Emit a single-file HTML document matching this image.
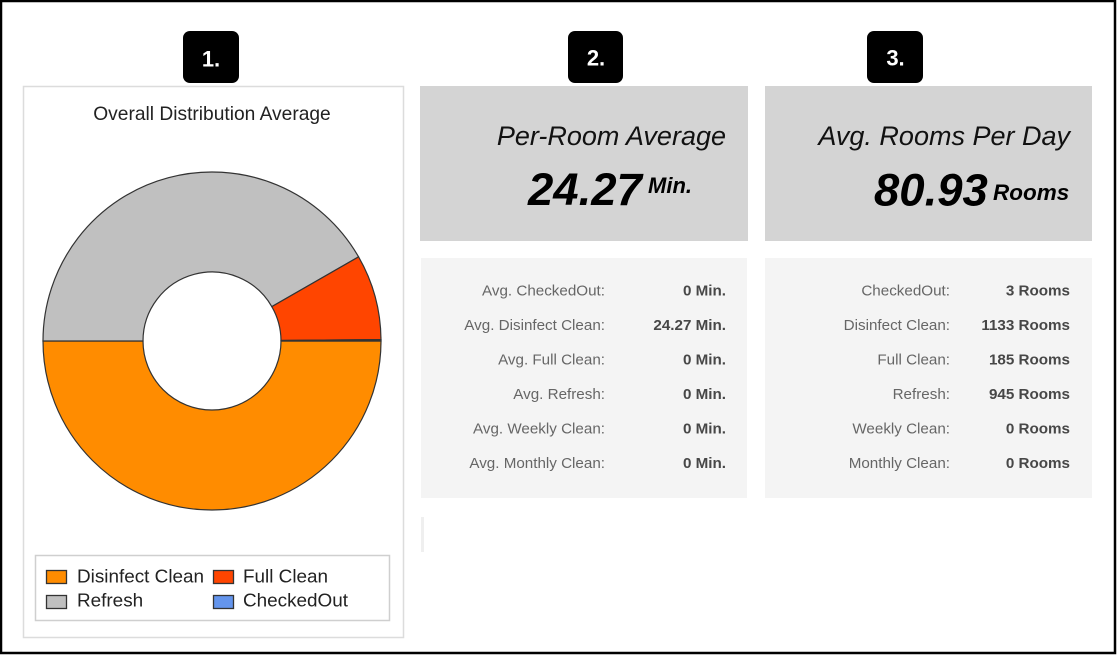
<!DOCTYPE html>
<html>
<head>
<meta charset="utf-8">
<style>
html,body{margin:0;padding:0;background:#fff;}
body{width:1118px;height:655px;overflow:hidden;position:relative;}
svg{position:absolute;left:0;top:0;}
text{font-family:"Liberation Sans",Arial,sans-serif;}
</style>
</head>
<body>
<svg width="1118" height="655" viewBox="0 0 1118 655" xmlns="http://www.w3.org/2000/svg">
  <!-- outer frame -->
  <rect x="1" y="1" width="1114" height="652" fill="#fff" stroke="#000" stroke-width="2.5"/>

  <!-- badges -->
  <rect x="183" y="31" width="56" height="52" rx="7" fill="#000"/>
  <text x="211" y="66.5" font-size="22" font-weight="bold" fill="#fff" text-anchor="middle">1.</text>
  <rect x="568" y="31" width="55" height="52" rx="7" fill="#000"/>
  <text x="596" y="65.5" font-size="22" font-weight="bold" fill="#fff" text-anchor="middle">2.</text>
  <rect x="867" y="31" width="56" height="52" rx="7" fill="#000"/>
  <text x="895.5" y="65.5" font-size="22" font-weight="bold" fill="#fff" text-anchor="middle">3.</text>

  <!-- panel 1 -->
  <rect x="23.5" y="86.5" width="380" height="551" fill="#fff" stroke="#dcdcdc" stroke-width="1.5"/>
  <text x="212" y="120" font-size="19.2" fill="#222" text-anchor="middle">Overall Distribution Average</text>

  <!-- donut -->
  <g stroke="#333" stroke-width="1.2">
    <path d="M 381 341 A 169 169 0 0 1 43 341 L 143 341 A 69 69 0 0 0 281 341 Z" fill="#FF8C00"/>
    <path d="M 43 341 A 169 169 0 0 1 358.56 256.85 L 271.84 306.64 A 69 69 0 0 0 143 341 Z" fill="#C0C0C0"/>
    <path d="M 358.56 256.85 A 169 169 0 0 1 380.99 339.59 L 281 340.43 A 69 69 0 0 0 271.84 306.64 Z" fill="#FF4500"/>
    <path d="M 380.99 339.59 A 169 169 0 0 1 381 341 L 281 341 A 69 69 0 0 0 281 340.43 Z" fill="#6495ED"/>
  </g>

  <!-- legend -->
  <rect x="35.5" y="555.5" width="354" height="65" fill="#fff" stroke="#cfcfcf" stroke-width="1.5"/>
  <rect x="46.5" y="570.5" width="20" height="13" fill="#FF8C00" stroke="#333" stroke-width="1.3"/>
  <text x="77" y="582.5" font-size="18.9" fill="#222">Disinfect Clean</text>
  <rect x="213.5" y="570.5" width="20" height="13" fill="#FF4500" stroke="#333" stroke-width="1.3"/>
  <text x="243" y="582.5" font-size="18.9" fill="#222">Full Clean</text>
  <rect x="46.5" y="595.5" width="20" height="13" fill="#C0C0C0" stroke="#333" stroke-width="1.3"/>
  <text x="77" y="606.5" font-size="18.9" fill="#222">Refresh</text>
  <rect x="213.5" y="595.5" width="20" height="13" fill="#6495ED" stroke="#333" stroke-width="1.3"/>
  <text x="243" y="606.5" font-size="18.9" fill="#222">CheckedOut</text>

  <!-- panel 2 top -->
  <rect x="420" y="86" width="328" height="155" fill="#d4d4d4"/>
  <text x="726" y="145" font-size="27" font-style="italic" fill="#111" text-anchor="end">Per-Room Average</text>
  <text x="528" y="205" font-size="45.5" font-style="italic" font-weight="bold" fill="#000">24.27</text>
  <text x="648" y="193" font-size="22" font-style="italic" font-weight="bold" fill="#000">Min.</text>

  <!-- panel 3 top -->
  <rect x="765" y="86" width="327" height="155" fill="#d4d4d4"/>
  <text x="1070" y="145" font-size="27" font-style="italic" fill="#111" text-anchor="end">Avg. Rooms Per Day</text>
  <text x="874" y="205.5" font-size="45.5" font-style="italic" font-weight="bold" fill="#000">80.93</text>
  <text x="993" y="200" font-size="22.5" font-style="italic" font-weight="bold" fill="#000">Rooms</text>

  <!-- panel 2 bottom -->
  <rect x="421" y="258" width="326" height="240" fill="#f4f4f4"/>
  <rect x="421" y="517" width="3" height="35" fill="#efefef"/>
  <g font-size="15.2" text-anchor="end">
    <g fill="#666">
      <text x="605" y="295.5">Avg. CheckedOut:</text>
      <text x="605" y="330">Avg. Disinfect Clean:</text>
      <text x="605" y="364.5">Avg. Full Clean:</text>
      <text x="605" y="399">Avg. Refresh:</text>
      <text x="605" y="433.5">Avg. Weekly Clean:</text>
      <text x="605" y="468">Avg. Monthly Clean:</text>
    </g>
    <g fill="#474747" font-weight="bold">
      <text x="726" y="295.5">0 Min.</text>
      <text x="726" y="330">24.27 Min.</text>
      <text x="726" y="364.5">0 Min.</text>
      <text x="726" y="399">0 Min.</text>
      <text x="726" y="433.5">0 Min.</text>
      <text x="726" y="468">0 Min.</text>
    </g>
  </g>

  <!-- panel 3 bottom -->
  <rect x="765" y="258" width="327" height="240" fill="#f4f4f4"/>
  <g font-size="15.2" text-anchor="end">
    <g fill="#666">
      <text x="950" y="295.5">CheckedOut:</text>
      <text x="950" y="330">Disinfect Clean:</text>
      <text x="950" y="364.5">Full Clean:</text>
      <text x="950" y="399">Refresh:</text>
      <text x="950" y="433.5">Weekly Clean:</text>
      <text x="950" y="468">Monthly Clean:</text>
    </g>
    <g fill="#474747" font-weight="bold">
      <text x="1070" y="295.5">3 Rooms</text>
      <text x="1070" y="330">1133 Rooms</text>
      <text x="1070" y="364.5">185 Rooms</text>
      <text x="1070" y="399">945 Rooms</text>
      <text x="1070" y="433.5">0 Rooms</text>
      <text x="1070" y="468">0 Rooms</text>
    </g>
  </g>
</svg>
</body>
</html>
